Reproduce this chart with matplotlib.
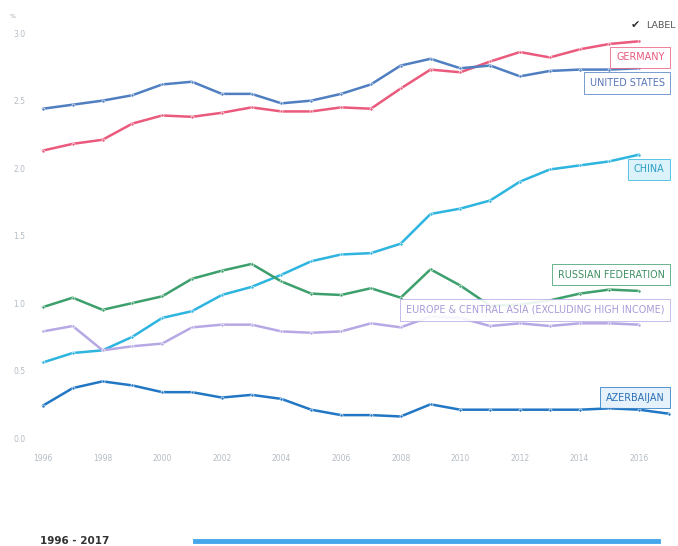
import matplotlib
matplotlib.use('Agg')
import matplotlib.pyplot as plt
from matplotlib.lines import Line2D

# data
years = list(range(1996, 2018))

germany = [2.13, 2.18, 2.21, 2.33, 2.39, 2.38, 2.41, 2.45, 2.42, 2.42, 2.45,
           2.44, 2.59, 2.73, 2.71, 2.79, 2.86, 2.82, 2.88, 2.92, 2.94]
united_states = [2.44, 2.47, 2.50, 2.54, 2.62, 2.64, 2.55, 2.55, 2.48, 2.50, 2.55,
                 2.62, 2.76, 2.81, 2.74, 2.76, 2.68, 2.72, 2.73, 2.73, 2.74]
china = [0.56, 0.63, 0.65, 0.75, 0.89, 0.94, 1.06, 1.12, 1.21, 1.31, 1.36,
         1.37, 1.44, 1.66, 1.70, 1.76, 1.90, 1.99, 2.02, 2.05, 2.10]
russia = [0.97, 1.04, 0.95, 1.00, 1.05, 1.18, 1.24, 1.29, 1.16, 1.07, 1.06,
          1.11, 1.04, 1.25, 1.13, 0.98, 0.99, 1.02, 1.07, 1.10, 1.09]
europe_ca = [0.79, 0.83, 0.65, 0.68, 0.70, 0.82, 0.84, 0.84, 0.79, 0.78, 0.79,
             0.85, 0.82, 0.90, 0.89, 0.83, 0.85, 0.83, 0.85, 0.85, 0.84]
azerbaijan = [0.24, 0.37, 0.42, 0.39, 0.34, 0.34, 0.30, 0.32, 0.29, 0.21, 0.17,
              0.17, 0.16, 0.25, 0.21, 0.21, 0.21, 0.21, 0.21, 0.22, 0.21, 0.18]

series_names = ['GERMANY', 'UNITED STATES', 'CHINA', 'RUSSIAN FEDERATION',
                'EUROPE & CENTRAL ASIA (EXCLUDING HIGH INCOME)', 'AZERBAIJAN']
series_values = [germany, united_states, china, russia, europe_ca, azerbaijan]
line_colors = ['#ea5a7c', '#4f7fc1', '#2db4df', '#3c9f6c', '#b6a8e4', '#2277c4']
text_colors = ['#e8587a', '#5574b8', '#2a9fc6', '#3f8f63', '#a99bd9', '#2a6fb8']
box_faces = ['#ffffff', '#ffffff', '#d9f1fa', '#ffffff', '#ffffff', '#e3f0fb']
label_y = [2.82, 2.63, 1.99, 1.21, 0.95, 0.30]

tick_years = list(range(1996, 2017, 2))
tick_vals = [0.0, 0.5, 1.0, 1.5, 2.0, 2.5, 3.0]

fig = plt.figure(figsize=(6.78, 5.46), dpi=100)
ax = fig.add_axes([0.0413, 0.173, 0.9587, 0.791])

for vals, col in zip(series_values, line_colors):
    ax.plot(years[:len(vals)], vals, color=col, lw=1.8, solid_capstyle='round',
            marker='o', ms=2.2, mfc=col, mec='white', mew=0.4, zorder=3)

# boxed series labels at the right
for name, y, tc, lc, fc in zip(series_names, label_y, text_colors, line_colors, box_faces):
    ax.text(2016.85, y, name, ha='right', va='center', fontsize=6.9, color=tc,
            zorder=5,
            bbox=dict(boxstyle='square,pad=0.6', fc=fc, ec=lc, lw=0.6, alpha=0.9))

ax.set_xlim(1995.5, 2017.3)
ax.set_ylim(-0.1, 3.1)
ax.set_xticks(tick_years)
ax.set_yticks(tick_vals)
ax.set_yticklabels(['%.1f' % v for v in tick_vals])
ax.tick_params(length=0, labelsize=5.5, labelcolor='#b5bcc4', pad=2)
for sp in ax.spines.values():
    sp.set_visible(False)

# unit label and legend toggle
fig.text(13 / 678, 1 - 17 / 546, '%', fontsize=4.5, color='#9aa3ad', ha='center', va='center')
fig.text(640 / 678, 1 - 25 / 546, '\u2714', fontsize=8, color='#333333', ha='right', va='center')
fig.text(646 / 678, 1 - 25 / 546, 'LABEL', fontsize=6.8, color='#555555', ha='left', va='center')

# range selector at the bottom
fig.text(40 / 678, 1 - 541 / 546, '1996 - 2017', fontsize=7.5, fontweight='bold',
         color='#333333', ha='left', va='center')
fig.add_artist(Line2D([195 / 678, 658 / 678], [1 - 541 / 546, 1 - 541 / 546],
                      color='#45a6ea', lw=3.5, transform=fig.transFigure))

fig.savefig('out.png', dpi=100)
